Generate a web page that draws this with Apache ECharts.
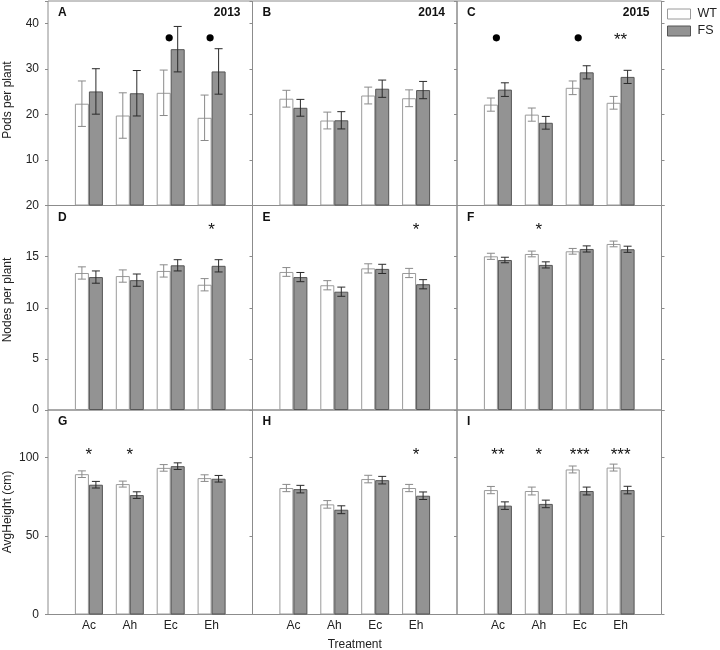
<!DOCTYPE html>
<html><head><meta charset="utf-8">
<script src="https://cdn.jsdelivr.net/npm/echarts@6/dist/echarts.min.js"></script>
<style>html,body{margin:0;padding:0;background:#fff}#c{width:720px;height:650px}</style>
</head><body><div id="c"></div>
<script>
// ---------- data ----------
const treatments = ['Ac', 'Ah', 'Ec', 'Eh'];
const groupNames = ['WT', 'FS'];
const panelLetters = ['A', 'B', 'C', 'D', 'E', 'F', 'G', 'H', 'I'];
const years = ['2013', '2014', '2015'];
const rowTitles = ['Pods per plant', 'Nodes per plant', 'AvgHeight (cm)'];
const xTitle = 'Treatment';
const yTickLabels = [[10, 20, 30, 40], [0, 5, 10, 15, 20], [0, 50, 100]];
const yMax = [45, 20, 130];
const yInterval = [10, 5, 50];

// Pods per plant
const A_WT = [22.4, 19.8, 24.8, 19.3], A_WT_se = [5.0, 5.0, 5.0, 5.0];
const A_FS = [25.1, 24.7, 34.4, 29.5], A_FS_se = [5.0, 5.0, 5.0, 5.0];
const A_sig = ['', '', '●', '●'];
const B_WT = [23.5, 18.7, 24.2, 23.6], B_WT_se = [1.85, 1.85, 1.85, 1.85];
const B_FS = [21.5, 18.75, 25.7, 25.4], B_FS_se = [1.85, 1.9, 1.9, 1.9];
const B_sig = ['', '', '', ''];
const C_WT = [22.2, 20.0, 25.9, 22.6], C_WT_se = [1.45, 1.45, 1.5, 1.4];
const C_FS = [25.5, 18.2, 29.3, 28.3], C_FS_se = [1.5, 1.4, 1.45, 1.45];
const C_sig = ['●', '', '●', '**'];
// Nodes per plant
const D_WT = [13.4, 13.1, 13.6, 12.25], D_WT_se = [0.6, 0.6, 0.6, 0.6];
const D_FS = [13.0, 12.7, 14.15, 14.1], D_FS_se = [0.6, 0.6, 0.55, 0.6];
const D_sig = ['', '', '', '*'];
const E_WT = [13.5, 12.2, 13.85, 13.4], E_WT_se = [0.43, 0.45, 0.45, 0.45];
const E_FS = [13.0, 11.57, 13.8, 12.3], E_FS_se = [0.45, 0.45, 0.45, 0.45];
const E_sig = ['', '', '', '*'];
const F_WT = [15.03, 15.26, 15.52, 16.24], F_WT_se = [0.3, 0.28, 0.28, 0.28];
const F_FS = [14.67, 14.19, 15.75, 15.72], F_FS_se = [0.27, 0.3, 0.3, 0.3];
const F_sig = ['', '*', '', ''];
// AvgHeight (cm)
const G_WT = [89.2, 82.9, 93.2, 86.7], G_WT_se = [2.1, 1.9, 2.1, 2.1];
const G_FS = [82.5, 75.9, 94.3, 86.3], G_FS_se = [2.1, 2.1, 2.1, 2.1];
const G_sig = ['*', '*', '', ''];
const H_WT = [80.4, 70.0, 86.1, 80.4], H_WT_se = [2.3, 2.4, 2.4, 2.3];
const H_FS = [79.7, 66.6, 85.4, 75.5], H_FS_se = [2.4, 2.5, 2.4, 2.4];
const H_sig = ['', '', '', '*'];
const I_WT = [79.1, 78.5, 92.2, 93.4], I_WT_se = [2.3, 2.5, 2.2, 2.2];
const I_FS = [69.2, 70.3, 78.5, 79.1], I_FS_se = [2.4, 2.4, 2.5, 2.4];
const I_sig = ['**', '*', '***', '***'];

const panels = [
  [A_WT, A_WT_se, A_FS, A_FS_se, A_sig], [B_WT, B_WT_se, B_FS, B_FS_se, B_sig], [C_WT, C_WT_se, C_FS, C_FS_se, C_sig],
  [D_WT, D_WT_se, D_FS, D_FS_se, D_sig], [E_WT, E_WT_se, E_FS, E_FS_se, E_sig], [F_WT, F_WT_se, F_FS, F_FS_se, F_sig],
  [G_WT, G_WT_se, G_FS, G_FS_se, G_sig], [H_WT, H_WT_se, H_FS, H_FS_se, H_sig], [I_WT, I_WT_se, I_FS, I_FS_se, I_sig]
];

// ---------- layout / style ----------
const FONT = '"Liberation Sans", Arial, Helvetica, sans-serif';
const colLeft = [48, 252.5, 457];
const rowTop = [1, 205.5, 410];
const cellW = 204.5, cellH = 204.5;
const sigLevel = [36.9, 17.8, 102.9];   // where significance marks sit in each row
const BAR_W = 14;
const frameColor = '#8c8c8c';
const barStyles = [
  { color: '#ffffff', borderColor: '#9a9a9a', borderWidth: 1 },
  { color: '#939393', borderColor: '#555555', borderWidth: 1 }
];
const errColors = ['#8a8a8a', '#2a2a2a'];

const chart = echarts.init(document.getElementById('c'), null, { renderer: 'canvas' });
const grid = [], xAxis = [], yAxis = [], series = [], graphic = [];
const xCats = [''].concat(treatments, ['']);

panels.forEach((p, k) => {
  const r = Math.floor(k / 3), c = k % 3;
  grid.push({ left: colLeft[c], top: rowTop[r], width: cellW, height: cellH, show: true,
    borderColor: frameColor, borderWidth: 1, backgroundColor: 'transparent' });
  xAxis.push({ gridIndex: k, type: 'category', data: xCats, boundaryGap: false,
    axisLine: { show: false }, axisTick: { show: false }, splitLine: { show: false },
    axisLabel: { show: r === 2, interval: 0, margin: 5, fontSize: 12, color: '#222', fontFamily: FONT } });
  const ticks = yTickLabels[r];
  const yBase = { gridIndex: k, type: 'value', min: 0, max: yMax[r], interval: yInterval[r],
    axisLine: { show: false }, splitLine: { show: false },
    axisTick: { show: true, inside: false, length: 3, lineStyle: { color: frameColor } } };
  yAxis.push(Object.assign({}, yBase, { position: 'left',
    axisLabel: { show: c === 0, margin: 9, fontSize: 12, color: '#222', fontFamily: FONT,
      formatter: v => (ticks.indexOf(v) >= 0 ? String(v) : '') } }));
  const leftIdx = yAxis.length - 1;
  if (c === 2) {
    yAxis.push(Object.assign({}, yBase, { position: 'right', axisLabel: { show: false } }));
  }
  const vals = [p[0], p[2]], ses = [p[1], p[3]], sig = p[4];
  vals.forEach((v, s) => {
    series.push({ type: 'bar', name: groupNames[s], xAxisIndex: k, yAxisIndex: leftIdx,
      barWidth: BAR_W, barGap: '0%', itemStyle: barStyles[s], silent: true,
      data: [null].concat(v, [null]) });
  });
  vals.forEach((v, s) => {
    const off = (s === 0 ? -1 : 1) * BAR_W / 2;
    series.push({ type: 'custom', xAxisIndex: k, yAxisIndex: leftIdx, silent: true, z: 5,
      data: v.map((m, i) => [i + 1, m - ses[s][i], m + ses[s][i]]),
      renderItem: (params, api) => {
        const lo = api.coord([api.value(0), api.value(1)]);
        const hi = api.coord([api.value(0), api.value(2)]);
        const x = lo[0] + off, cw = 4;
        const st = { stroke: errColors[s], lineWidth: 1 };
        return { type: 'group', children: [
          { type: 'line', shape: { x1: x, y1: lo[1], x2: x, y2: hi[1] }, style: st },
          { type: 'line', shape: { x1: x - cw, y1: lo[1], x2: x + cw, y2: lo[1] }, style: st },
          { type: 'line', shape: { x1: x - cw, y1: hi[1], x2: x + cw, y2: hi[1] }, style: st }
        ] };
      } });
  });
  const sigIdx = [];
  sig.forEach((s, i) => { if (s) sigIdx.push(i); });
  series.push({ type: 'custom', xAxisIndex: k, yAxisIndex: leftIdx, silent: true, z: 6,
    data: sigIdx.map(i => [i + 1, sigLevel[r]]),
    renderItem: (params, api) => {
      const s = sig[sigIdx[params.dataIndex]];
      const pt = api.coord([api.value(0), api.value(1)]);
      if (s === '●') {
        return { type: 'circle', shape: { cx: pt[0] - 1.5, cy: pt[1], r: 3.6 }, style: { fill: '#000' } };
      }
      return { type: 'text', x: pt[0], y: pt[1] + 2.5,
        style: { text: s, fill: '#111', font: '17px ' + FONT, align: 'center', verticalAlign: 'middle' } };
    } });

  graphic.push({ type: 'text', left: colLeft[c] + 10, top: rowTop[r] + 6,
    style: { text: panelLetters[k], font: 'bold 12px ' + FONT, fill: '#111' } });
  if (r === 0) {
    graphic.push({ type: 'text', right: 720 - (colLeft[c] + cellW - 12), top: rowTop[r] + 6,
      style: { text: years[c], font: 'bold 12px ' + FONT, fill: '#111' } });
  }
});

const titleCenters = [100, 300, 512];
rowTitles.forEach((t, r) => {
  graphic.push({ type: 'text', x: 8, y: titleCenters[r], rotation: Math.PI / 2,
    style: { text: t, font: '12px ' + FONT, fill: '#222', align: 'center', verticalAlign: 'middle' } });
});
graphic.push({ type: 'text', x: colLeft[0] + (colLeft[2] + cellW - colLeft[0]) / 2, y: 645,
  style: { text: xTitle, font: '12px ' + FONT, fill: '#222', align: 'center', verticalAlign: 'middle' } });

chart.setOption({
  animation: false,
  backgroundColor: '#fff',
  grid, xAxis, yAxis, series, graphic,
  legend: { data: groupNames, orient: 'vertical', left: 667, top: 7.5, padding: 0, itemWidth: 23, itemHeight: 10,
    itemGap: 4, icon: 'rect', selectedMode: false, itemStyle: { borderWidth: 1 },
    textStyle: { fontSize: 12.5, color: '#222', fontFamily: FONT, overflow: 'none', padding: [0, 0, 0, 2] } }
});
</script></body></html>
